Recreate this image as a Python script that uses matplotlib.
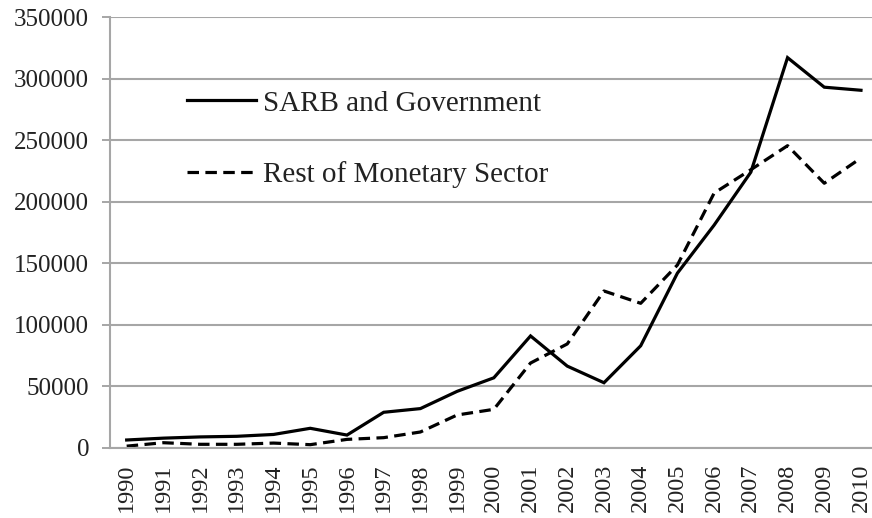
import matplotlib
matplotlib.use('Agg')
import matplotlib.pyplot as plt

# Datos
years = [str(y) for y in range(1990, 2011)]
sarb_gov = [6500, 8000, 9000, 9500, 11000, 16000, 10500, 29000, 32000, 46000,
            57000, 91000, 66500, 53000, 83000, 142000, 181000, 224000, 317000,
            293000, 290500]
rest_monetary = [1500, 4300, 3000, 3000, 4000, 2700, 7000, 8400, 13000, 26800,
                 31400, 69000, 84500, 127500, 117500, 148600, 207000, 226000,
                 245500, 215000, 235500]
y_ticks = [0, 50000, 100000, 150000, 200000, 250000, 300000, 350000]

plt.rcParams['font.family'] = ['Liberation Serif', 'DejaVu Serif']

fig = plt.figure(figsize=(8.72, 5.18), dpi=100)
ax = fig.add_axes([110 / 872, 1 - 448 / 518, 762 / 872, 431 / 518])

grid_color = '#a6a6a6'
x = list(range(len(years)))
ax.plot(x, sarb_gov, color='black', lw=2.3, label='SARB and Government',
        solid_joinstyle='miter')
ax.plot(x, rest_monetary, color='black', lw=2.3, dashes=(3.6, 2.0),
        label='Rest of Monetary Sector')

ax.set_xlim(-0.454, 20.3)
ax.set_ylim(0, 350000)
ax.set_yticks(y_ticks)
ax.set_yticklabels([str(v) for v in y_ticks], fontsize=18, color='#222222')
ax.set_xticks(x)
ax.set_xticklabels(years, rotation=90, fontsize=17.5, color='#222222')
ax.tick_params(axis='x', length=0, pad=11)
ax.tick_params(axis='y', length=6, width=1.4, color=grid_color, pad=9)

ax.grid(axis='y', color=grid_color, lw=1.5)
ax.set_axisbelow(True)
for s in ['top', 'right']:
    ax.spines[s].set_visible(False)
for s in ['left', 'bottom']:
    ax.spines[s].set_color(grid_color)
    ax.spines[s].set_linewidth(1.5)

leg = ax.legend(loc='upper left', bbox_to_anchor=(161 / 872, 1 - 64 / 518),
                bbox_transform=fig.transFigure, frameon=False, fontsize=21,
                handlelength=2.36, handletextpad=0.25, labelspacing=1.53)
for t in leg.get_texts():
    t.set_color('#222222')

fig.savefig('out.png', dpi=100)
